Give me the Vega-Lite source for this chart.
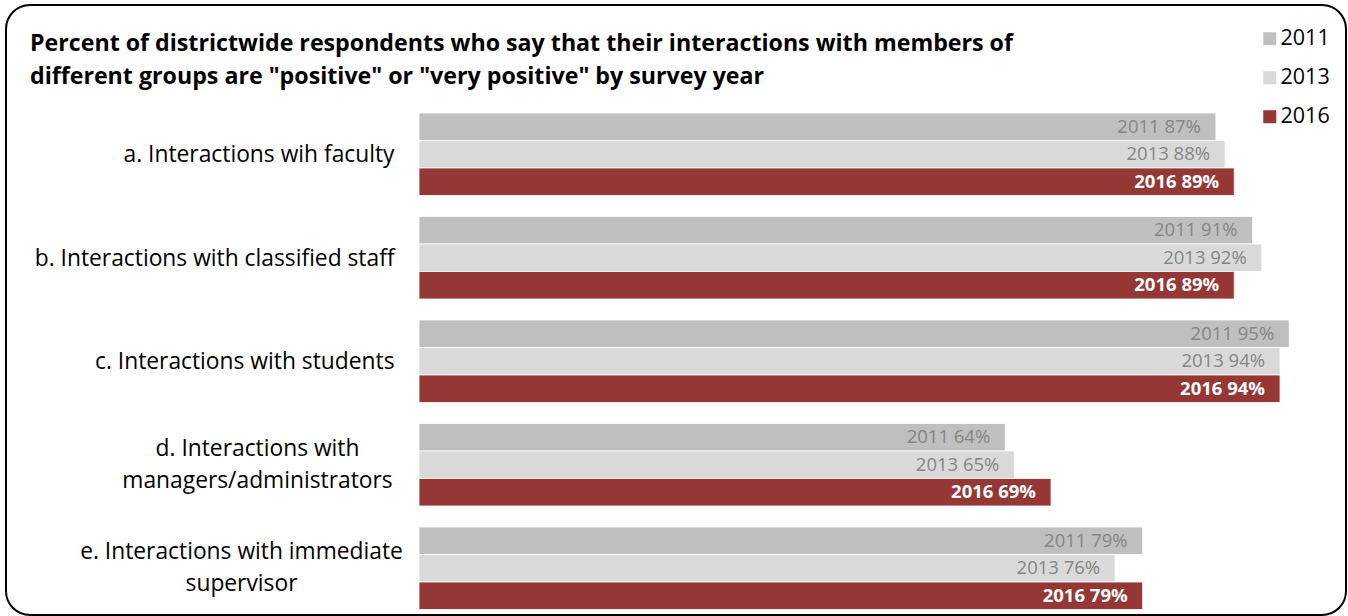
{
  "$schema": "https://vega.github.io/schema/vega-lite/v6.json",
  "width": 1340,
  "height": 610,
  "autosize": {"type": "none"},
  "padding": {"left": 6, "top": 5, "right": 2, "bottom": 1},
  "background": "white",
  "config": {
    "view": {"stroke": "black", "strokeWidth": 2, "cornerRadius": 24},
    "font": "Open Sans"
  },
  "title": {
    "text": [
      "Percent of districtwide respondents who say that their interactions with members of",
      "different groups are \"positive\" or \"very positive\"  by survey year"
    ],
    "anchor": "start",
    "frame": "group",
    "dx": 24,
    "offset": -84,
    "baseline": "top",
    "fontSize": 23.2,
    "fontWeight": "bold",
    "font": "Open Sans",
    "lineHeight": 33,
    "color": "black"
  },
  "data": {
    "values": [
      {"category": "a. Interactions wih faculty", "year": "2011", "pct": 87},
      {"category": "a. Interactions wih faculty", "year": "2013", "pct": 88},
      {"category": "a. Interactions wih faculty", "year": "2016", "pct": 89},
      {"category": "b. Interactions with classified staff", "year": "2011", "pct": 91},
      {"category": "b. Interactions with classified staff", "year": "2013", "pct": 92},
      {"category": "b. Interactions with classified staff", "year": "2016", "pct": 89},
      {"category": "c. Interactions with students", "year": "2011", "pct": 95},
      {"category": "c. Interactions with students", "year": "2013", "pct": 94},
      {"category": "c. Interactions with students", "year": "2016", "pct": 94},
      {"category": "d. Interactions with|managers/administrators", "year": "2011", "pct": 64},
      {"category": "d. Interactions with|managers/administrators", "year": "2013", "pct": 65},
      {"category": "d. Interactions with|managers/administrators", "year": "2016", "pct": 69},
      {"category": "e. Interactions with immediate|supervisor", "year": "2011", "pct": 79},
      {"category": "e. Interactions with immediate|supervisor", "year": "2013", "pct": 76},
      {"category": "e. Interactions with immediate|supervisor", "year": "2016", "pct": 79}
    ]
  },
  "transform": [
    {"calculate": "datum.year + ' ' + datum.pct + '%'", "as": "label"}
  ],
  "encoding": {
    "y": {
      "field": "category",
      "type": "nominal",
      "sort": null,
      "scale": {"range": [108, 604.5], "paddingInner": 0.203, "paddingOuter": 0},
      "axis": {
        "title": null,
        "orient": "left",
        "offset": -413,
        "domain": false,
        "ticks": false,
        "grid": false,
        "labelExpr": "split(datum.label, '|')",
        "labelFont": "Open Sans",
        "labelFontSize": 22.8,
        "labelColor": "black",
        "labelLineHeight": 32,
        "labelLimit": 0,
        "labelAlign": {"condition": {"test": "indexof(datum.value, '|') >= 0", "value": "center"}, "value": "right"},
        "labelOffset": {"condition": {"test": "indexof(datum.value, '|') >= 0", "value": -16}, "value": 1},
        "labelPadding": {"condition": [
          {"test": "indexof(datum.value, 'd.') === 0", "value": 162},
          {"test": "indexof(datum.value, 'e.') === 0", "value": 178}
        ], "value": 25}
      }
    },
    "yOffset": {"field": "year", "type": "nominal", "scale": {"paddingInner": 0, "paddingOuter": 0}},
    "x": {
      "field": "pct",
      "type": "quantitative",
      "scale": {"domain": [0, 100], "range": [413, 1329]},
      "axis": null
    }
  },
  "layer": [
    {
      "mark": {"type": "bar", "stroke": "white", "strokeWidth": 0.8},
      "encoding": {
        "color": {
          "field": "year",
          "type": "nominal",
          "scale": {"domain": ["2011", "2013", "2016"], "range": ["#bfbfbf", "#d9d9d9", "#953735"]},
          "legend": {
            "title": null,
            "orient": "none",
            "legendX": 1253,
            "legendY": 23,
            "symbolType": "square",
            "symbolSize": 169,
            "symbolStrokeWidth": 0,
            "labelFontSize": 21.5,
            "labelFont": "Open Sans",
            "labelColor": "black",
            "rowPadding": 16,
            "labelOffset": 0,
            "padding": 0
          }
        }
      }
    },
    {
      "transform": [{"filter": "datum.year !== '2016'"}],
      "mark": {"type": "text", "align": "right", "baseline": "middle", "dx": -15, "fontSize": 18.5, "color": "#868686"},
      "encoding": {"text": {"field": "label"}}
    },
    {
      "transform": [{"filter": "datum.year === '2016'"}],
      "mark": {"type": "text", "align": "right", "baseline": "middle", "dx": -15, "fontSize": 18.5, "fontWeight": "bold", "color": "white"},
      "encoding": {"text": {"field": "label"}}
    }
  ]
}
